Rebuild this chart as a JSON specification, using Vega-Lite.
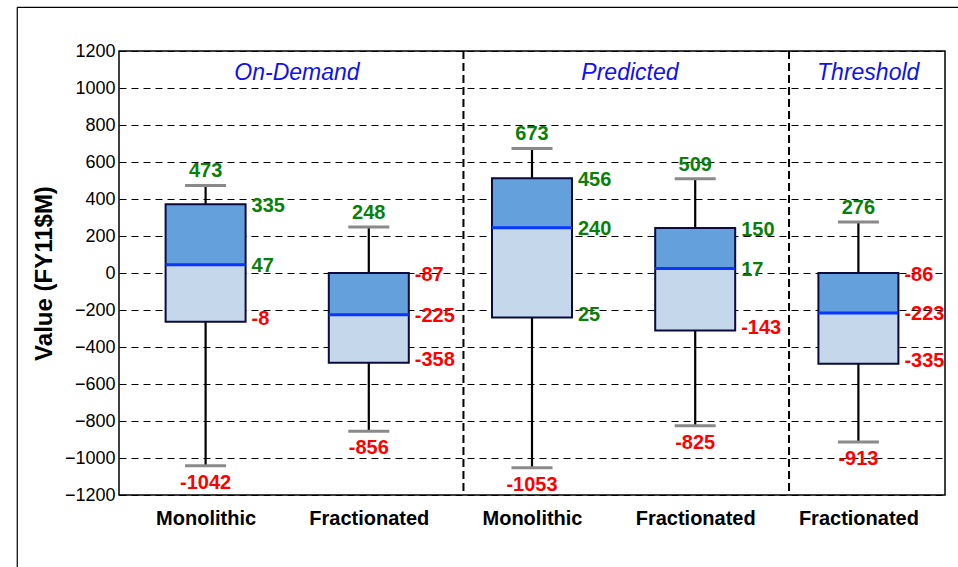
{
  "$schema": "https://vega.github.io/schema/vega-lite/v6.json",
  "width": 826,
  "height": 444,
  "autosize": {"type": "none"},
  "padding": {"left": 119, "top": 51, "right": 13, "bottom": 72},
  "background": "white",
  "config": {"view": {"stroke": "black", "strokeWidth": 1.5}, "font": "Liberation Sans"},
  "datasets": {
    "boxes": [
      {"slot": 1, "design": "Monolithic", "group": "On-Demand", "min": -1042, "q1": -263, "median": 44, "q3": 371, "max": 473, "lab_q3": 335, "lab_med": 47, "lab_q1": -8},
      {"slot": 2, "design": "Fractionated", "group": "On-Demand", "min": -856, "q1": -485, "median": -226, "q3": 0, "max": 248, "lab_q3": -87, "lab_med": -225, "lab_q1": -358},
      {"slot": 3, "design": "Monolithic", "group": "Predicted", "min": -1053, "q1": -241, "median": 245, "q3": 512, "max": 673, "lab_q3": 456, "lab_med": 240, "lab_q1": 25},
      {"slot": 4, "design": "Fractionated", "group": "Predicted", "min": -825, "q1": -311, "median": 24, "q3": 243, "max": 509, "lab_q3": 150, "lab_med": 17, "lab_q1": -143},
      {"slot": 5, "design": "Fractionated", "group": "Threshold", "min": -913, "q1": -490, "median": -216, "q3": 0, "max": 276, "lab_q3": -86, "lab_med": -223, "lab_q1": -335}
    ],
    "groups": [
      {"group": "On-Demand", "center": 1.56, "end": 2.58},
      {"group": "Predicted", "center": 3.6, "end": 4.575},
      {"group": "Threshold", "center": 5.06, "end": 5.5}
    ]
  },
  "layer": [
    {
      "data": {"values": [{}]},
      "mark": {"type": "rule", "color": "black", "strokeWidth": 1.2},
      "encoding": {
        "x": {"datum": -0.154, "type": "quantitative", "scale": {"domain": [0.5, 5.5], "nice": false, "zero": false},
          "axis": {"values": [1, 2, 3, 4, 5], "labelExpr": "['Monolithic','Fractionated','Monolithic','Fractionated','Fractionated'][datum.value - 1]", "grid": false, "ticks": false, "domain": false, "labelFontSize": 20, "labelFontWeight": "bold", "labelColor": "black", "labelPadding": 29, "labelBaseline": "alphabetic", "labelFlush": false, "labelOverlap": false, "title": null}},
        "x2": {"datum": 5.7},
        "y": {"datum": 1436, "type": "quantitative", "scale": {"domain": [-1200, 1200], "nice": false, "zero": false},
          "axis": {"values": [-1200, -1000, -800, -600, -400, -200, 0, 200, 400, 600, 800, 1000, 1200], "tickCount": 13, "format": "d", "labelOverlap": false, "labelFlush": false, "grid": true, "gridDash": [7, 5], "gridColor": "black", "gridWidth": 1, "gridOpacity": 1, "ticks": false, "domain": false, "labelFontSize": 18, "labelColor": "black", "labelPadding": 4, "title": "Value (FY11$M)", "titleFontSize": 24, "titleFontWeight": "bold", "titleColor": "black", "titlePadding": 8}}
      }
    },
    {
      "data": {"values": [{}]},
      "mark": {"type": "rule", "color": "black", "strokeWidth": 1.2},
      "encoding": {
        "x": {"datum": -0.154, "type": "quantitative"},
        "y": {"datum": 1436, "type": "quantitative"},
        "y2": {"datum": -1700}
      }
    },
    {
      "data": {"name": "groups"},
      "transform": [{"filter": "datum.end < 5.5"}],
      "mark": {"type": "rule", "color": "black", "strokeWidth": 2, "strokeDash": [8, 4]},
      "encoding": {
        "x": {"field": "end", "type": "quantitative"}
      }
    },
    {
      "data": {"name": "groups"},
      "mark": {"type": "text", "fontSize": 23, "fontStyle": "italic", "color": "#1010f0", "baseline": "alphabetic", "align": "center"},
      "encoding": {
        "x": {"field": "center", "type": "quantitative"},
        "y": {"datum": 1043, "type": "quantitative"},
        "text": {"field": "group"}
      }
    },
    {
      "data": {"name": "boxes"},
      "mark": {"type": "rule", "color": "black", "strokeWidth": 2.2},
      "encoding": {
        "x": {"field": "slot", "type": "quantitative"},
        "y": {"field": "q3", "type": "quantitative"},
        "y2": {"field": "max"}
      }
    },
    {
      "data": {"name": "boxes"},
      "mark": {"type": "rule", "color": "black", "strokeWidth": 2.2},
      "encoding": {
        "x": {"field": "slot", "type": "quantitative"},
        "y": {"field": "min", "type": "quantitative"},
        "y2": {"field": "q1"}
      }
    },
    {
      "data": {"name": "boxes"},
      "mark": {"type": "tick", "orient": "horizontal", "size": 41, "thickness": 3, "color": "#8a8a8a", "opacity": 1},
      "encoding": {
        "x": {"field": "slot", "type": "quantitative"},
        "y": {"field": "max", "type": "quantitative"}
      }
    },
    {
      "data": {"name": "boxes"},
      "mark": {"type": "tick", "orient": "horizontal", "size": 41, "thickness": 3, "color": "#8a8a8a", "opacity": 1},
      "encoding": {
        "x": {"field": "slot", "type": "quantitative"},
        "y": {"field": "min", "type": "quantitative"}
      }
    },
    {
      "data": {"name": "boxes"},
      "mark": {"type": "bar", "size": 80, "color": "#c4d7eb", "opacity": 1},
      "encoding": {
        "x": {"field": "slot", "type": "quantitative"},
        "y": {"field": "q1", "type": "quantitative"},
        "y2": {"field": "median"}
      }
    },
    {
      "data": {"name": "boxes"},
      "mark": {"type": "bar", "size": 80, "color": "#64a0dc", "opacity": 1},
      "encoding": {
        "x": {"field": "slot", "type": "quantitative"},
        "y": {"field": "median", "type": "quantitative"},
        "y2": {"field": "q3"}
      }
    },
    {
      "data": {"name": "boxes"},
      "mark": {"type": "bar", "size": 80, "fill": "transparent", "stroke": "#0b0b40", "strokeWidth": 2},
      "encoding": {
        "x": {"field": "slot", "type": "quantitative"},
        "y": {"field": "q1", "type": "quantitative"},
        "y2": {"field": "q3"}
      }
    },
    {
      "data": {"name": "boxes"},
      "mark": {"type": "tick", "orient": "horizontal", "size": 80, "thickness": 3, "color": "#0836ff", "opacity": 1},
      "encoding": {
        "x": {"field": "slot", "type": "quantitative"},
        "y": {"field": "median", "type": "quantitative"}
      }
    },
    {
      "data": {"name": "boxes"},
      "mark": {"type": "text", "fontSize": 20, "fontWeight": "bold", "align": "center", "baseline": "alphabetic", "dy": -8},
      "encoding": {
        "x": {"field": "slot", "type": "quantitative"},
        "y": {"field": "max", "type": "quantitative"},
        "text": {"field": "max"},
        "color": {"condition": {"test": "datum.max < 0", "value": "#ff0000"}, "value": "#098009"}
      }
    },
    {
      "data": {"name": "boxes"},
      "mark": {"type": "text", "fontSize": 20, "fontWeight": "bold", "align": "center", "baseline": "alphabetic", "dy": 23},
      "encoding": {
        "x": {"field": "slot", "type": "quantitative"},
        "y": {"field": "min", "type": "quantitative"},
        "text": {"field": "min"},
        "color": {"condition": {"test": "datum.min < 0", "value": "#ff0000"}, "value": "#098009"}
      }
    },
    {
      "data": {"name": "boxes"},
      "mark": {"type": "text", "fontSize": 20, "fontWeight": "bold", "align": "left", "baseline": "middle", "dx": 46, "dy": 2},
      "encoding": {
        "x": {"field": "slot", "type": "quantitative"},
        "y": {"field": "q3", "type": "quantitative"},
        "text": {"field": "lab_q3"},
        "color": {"condition": {"test": "datum.lab_q3 < 0", "value": "#ff0000"}, "value": "#098009"}
      }
    },
    {
      "data": {"name": "boxes"},
      "mark": {"type": "text", "fontSize": 20, "fontWeight": "bold", "align": "left", "baseline": "middle", "dx": 46, "dy": 1},
      "encoding": {
        "x": {"field": "slot", "type": "quantitative"},
        "y": {"field": "median", "type": "quantitative"},
        "text": {"field": "lab_med"},
        "color": {"condition": {"test": "datum.lab_med < 0", "value": "#ff0000"}, "value": "#098009"}
      }
    },
    {
      "data": {"name": "boxes"},
      "mark": {"type": "text", "fontSize": 20, "fontWeight": "bold", "align": "left", "baseline": "middle", "dx": 46, "dy": -3},
      "encoding": {
        "x": {"field": "slot", "type": "quantitative"},
        "y": {"field": "q1", "type": "quantitative"},
        "text": {"field": "lab_q1"},
        "color": {"condition": {"test": "datum.lab_q1 < 0", "value": "#ff0000"}, "value": "#098009"}
      }
    }
  ]
}
